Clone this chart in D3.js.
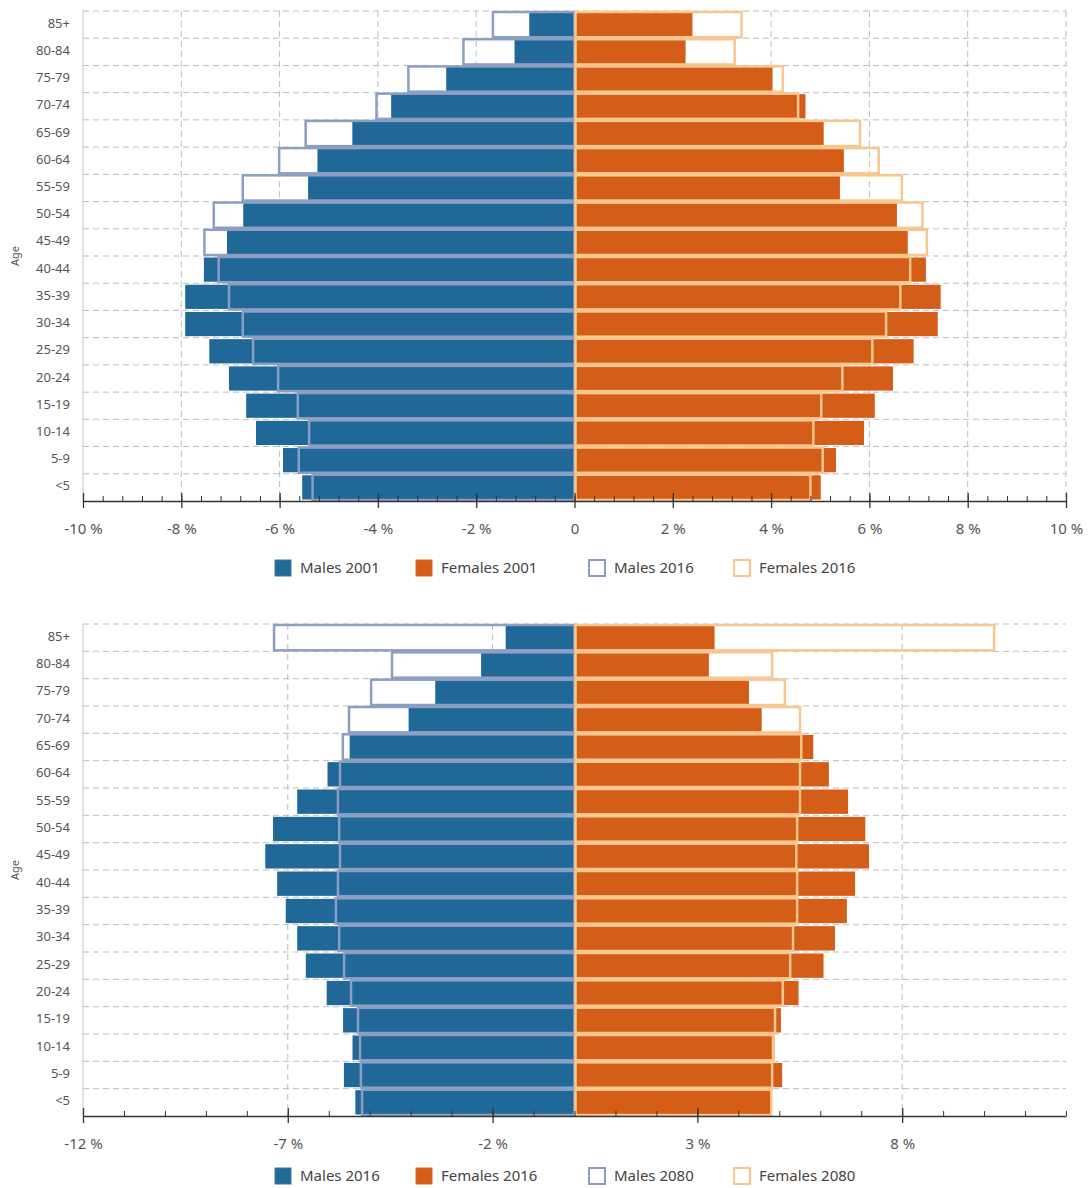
<!DOCTYPE html>
<html>
<head>
<meta charset="utf-8">
<script src="https://cdn.jsdelivr.net/npm/d3@7"></script>
<style>
  body { margin: 0; background: #fff; }
  svg { display: block; font-family: "Noto Sans", "Open Sans", sans-serif; }
</style>
</head>
<body>
<svg id="chart" width="1091" height="1188"></svg>
<script>
const ages = ["85+", "80-84", "75-79", "70-74", "65-69", "60-64", "55-59", "50-54", "45-49",
  "40-44", "35-39", "30-34", "25-29", "20-24", "15-19", "10-14", "5-9", "<5"];

// shares of total population, %
const males2001 = [0.92, 1.22, 2.61, 3.73, 4.52, 5.23, 5.42, 6.74, 7.07, 7.54, 7.92, 7.92, 7.43, 7.03, 6.68, 6.48, 5.93, 5.54];
const females2001 = [2.40, 2.26, 4.03, 4.70, 5.07, 5.48, 5.40, 6.56, 6.78, 7.15, 7.45, 7.39, 6.90, 6.48, 6.11, 5.89, 5.32, 5.01];
const males2016 = [1.68, 2.28, 3.40, 4.05, 5.49, 6.03, 6.77, 7.36, 7.55, 7.26, 7.05, 6.77, 6.56, 6.05, 5.65, 5.42, 5.63, 5.35];
const females2016 = [3.42, 3.28, 4.26, 4.57, 5.83, 6.21, 6.68, 7.10, 7.19, 6.85, 6.65, 6.36, 6.08, 5.47, 5.04, 4.88, 5.07, 4.82];
const males2080 = [7.36, 4.48, 4.99, 5.53, 5.68, 5.75, 5.80, 5.77, 5.75, 5.80, 5.85, 5.77, 5.65, 5.48, 5.31, 5.26, 5.24, 5.21];
const females2080 = [10.27, 4.85, 5.16, 5.53, 5.56, 5.53, 5.53, 5.46, 5.44, 5.46, 5.46, 5.36, 5.29, 5.11, 4.92, 4.87, 4.85, 4.83];

const topTicks = [-10, -8, -6, -4, -2, 0, 2, 4, 6, 8, 10];
const bottomTicks = [-12, -7, -2, 3, 8];

const blue = "#1f6898", orange = "#d45d18";
const blueLine = "#8c9fc3", orangeLine = "#f8c790";

const svg = d3.select("#chart");

const pyramid = (opt) => {
  const x = d3.scaleLinear().domain(opt.domain).range([83, 1066]);
  const y = d3.scaleBand().domain(ages).range([opt.top, opt.bottom]);
  const g = svg.append("g");

  // horizontal grid at band edges
  g.selectAll(".hgrid")
    .data(ages)
    .enter()
    .append("line")
    .attr("x1", x.range()[0])
    .attr("x2", x.range()[1])
    .attr("y1", (d) => y(d))
    .attr("y2", (d) => y(d))
    .attr("stroke", "#bdbdbd")
    .attr("stroke-dasharray", "6,4");

  // vertical grid at major ticks
  g.selectAll(".vgrid")
    .data(opt.ticks.filter((t) => t !== opt.domain[0]))
    .enter()
    .append("line")
    .attr("x1", (d) => x(d))
    .attr("x2", (d) => x(d))
    .attr("y1", opt.top)
    .attr("y2", opt.bottom)
    .attr("stroke", "#bdbdbd")
    .attr("stroke-dasharray", "6,4");

  const rows = (m, f) => ages.map((a, i) => ({ age: a, m: m[i], f: f[i] }));

  // filled bars (older year)
  const filled = rows(opt.mFill, opt.fFill);
  g.selectAll(".mfill")
    .data(filled)
    .enter()
    .append("rect")
    .attr("x", (d) => x(-d.m))
    .attr("width", (d) => x(0) - x(-d.m))
    .attr("y", (d) => y(d.age) + 1.5)
    .attr("height", y.bandwidth() - 3)
    .attr("fill", blue);
  g.selectAll(".ffill")
    .data(filled)
    .enter()
    .append("rect")
    .attr("x", x(0))
    .attr("width", (d) => x(d.f) - x(0))
    .attr("y", (d) => y(d.age) + 1.5)
    .attr("height", y.bandwidth() - 3)
    .attr("fill", orange);

  // outline bars (newer year)
  const outl = rows(opt.mLine, opt.fLine);
  g.selectAll(".mline")
    .data(outl)
    .enter()
    .append("rect")
    .attr("x", (d) => x(-d.m) + 1)
    .attr("width", (d) => x(0) - x(-d.m) - 1)
    .attr("y", (d) => y(d.age) + 1)
    .attr("height", y.bandwidth() - 2)
    .attr("fill", "none")
    .attr("stroke", blueLine)
    .attr("stroke-width", 2.5);
  g.selectAll(".fline")
    .data(outl)
    .enter()
    .append("rect")
    .attr("x", x(0) + 1)
    .attr("width", (d) => x(d.f) - x(0) - 2)
    .attr("y", (d) => y(d.age) + 1)
    .attr("height", y.bandwidth() - 2)
    .attr("fill", "none")
    .attr("stroke", orangeLine)
    .attr("stroke-width", 2.5);

  // left axis line
  g.append("line")
    .attr("x1", 83).attr("x2", 83)
    .attr("y1", opt.top).attr("y2", opt.bottom)
    .attr("stroke", "#c8c8c8");

  // age labels
  g.selectAll(".agelab")
    .data(ages)
    .enter()
    .append("text")
    .attr("x", 70)
    .attr("y", (d) => y(d) + y.bandwidth() / 2 - 1.5)
    .attr("dy", "0.35em")
    .attr("text-anchor", "end")
    .attr("font-size", 13)
    .attr("fill", "#555")
    .text((d) => d);

  g.append("text")
    .attr("transform", `translate(19,${(opt.top + opt.bottom) / 2}) rotate(-90)`)
    .attr("text-anchor", "middle")
    .attr("font-size", 11)
    .attr("fill", "#555")
    .text("Age");

  // minor ticks
  g.append("g")
    .attr("transform", `translate(0,${opt.bottom})`)
    .call(d3.axisBottom(x).tickValues(opt.minor).tickSize(-5).tickFormat(""))
    .call((a) => a.select(".domain").remove())
    .call((a) => a.selectAll("line").attr("stroke", "#333"));

  // major axis
  const ax = g.append("g")
    .attr("transform", `translate(0,${opt.bottom})`)
    .call(d3.axisBottom(x).tickValues(opt.ticks).tickSizeOuter(0)
      .tickFormat((d) => (d === 0 ? "0" : `${d} %`)));
  ax.select(".domain").attr("stroke", "#333").attr("stroke-width", 1.3);
  ax.selectAll(".tick line").attr("y1", -8).attr("y2", 7).attr("stroke", "#333").attr("stroke-width", 1.3);
  ax.selectAll(".tick text")
    .attr("y", 22)
    .attr("font-size", 15)
    .attr("font-family", "\"Noto Sans\", sans-serif")
    .attr("fill", "#555");

  // legend
  const leg = g.append("g").attr("transform", `translate(0,${opt.legendY})`);
  const items = [
    { label: opt.names[0], fill: blue, stroke: "#3d7aa6", x: 274 },
    { label: opt.names[1], fill: orange, stroke: "#d9692a", x: 415 },
    { label: opt.names[2], fill: "#fff", stroke: blueLine, x: 588 },
    { label: opt.names[3], fill: "#fff", stroke: orangeLine, x: 733 },
  ];
  const it = leg.selectAll(".item").data(items).enter().append("g")
    .attr("transform", (d) => `translate(${d.x},0)`);
  it.append("rect")
    .attr("x", 1).attr("y", -8)
    .attr("width", 16).attr("height", 16)
    .attr("fill", (d) => d.fill)
    .attr("stroke", (d) => d.stroke)
    .attr("stroke-width", (d) => (d.fill === "#fff" ? 2 : 1));
  it.append("text")
    .attr("x", 26).attr("dy", "0.35em")
    .attr("font-size", 15)
    .attr("fill", "#444")
    .text((d) => d.label);
};

pyramid({
  domain: [-10, 10], ticks: topTicks, minor: d3.range(-10, 10.001, 0.4),
  top: 11, bottom: 501, legendY: 568,
  mFill: males2001, fFill: females2001, mLine: males2016, fLine: females2016,
  names: ["Males 2001", "Females 2001", "Males 2016", "Females 2016"],
});

pyramid({
  domain: [-12, 12], ticks: bottomTicks, minor: d3.range(-12, 12.001, 1),
  top: 624, bottom: 1116, legendY: 1176,
  mFill: males2016, fFill: females2016, mLine: males2080, fLine: females2080,
  names: ["Males 2016", "Females 2016", "Males 2080", "Females 2080"],
});
</script>
</body>
</html>
